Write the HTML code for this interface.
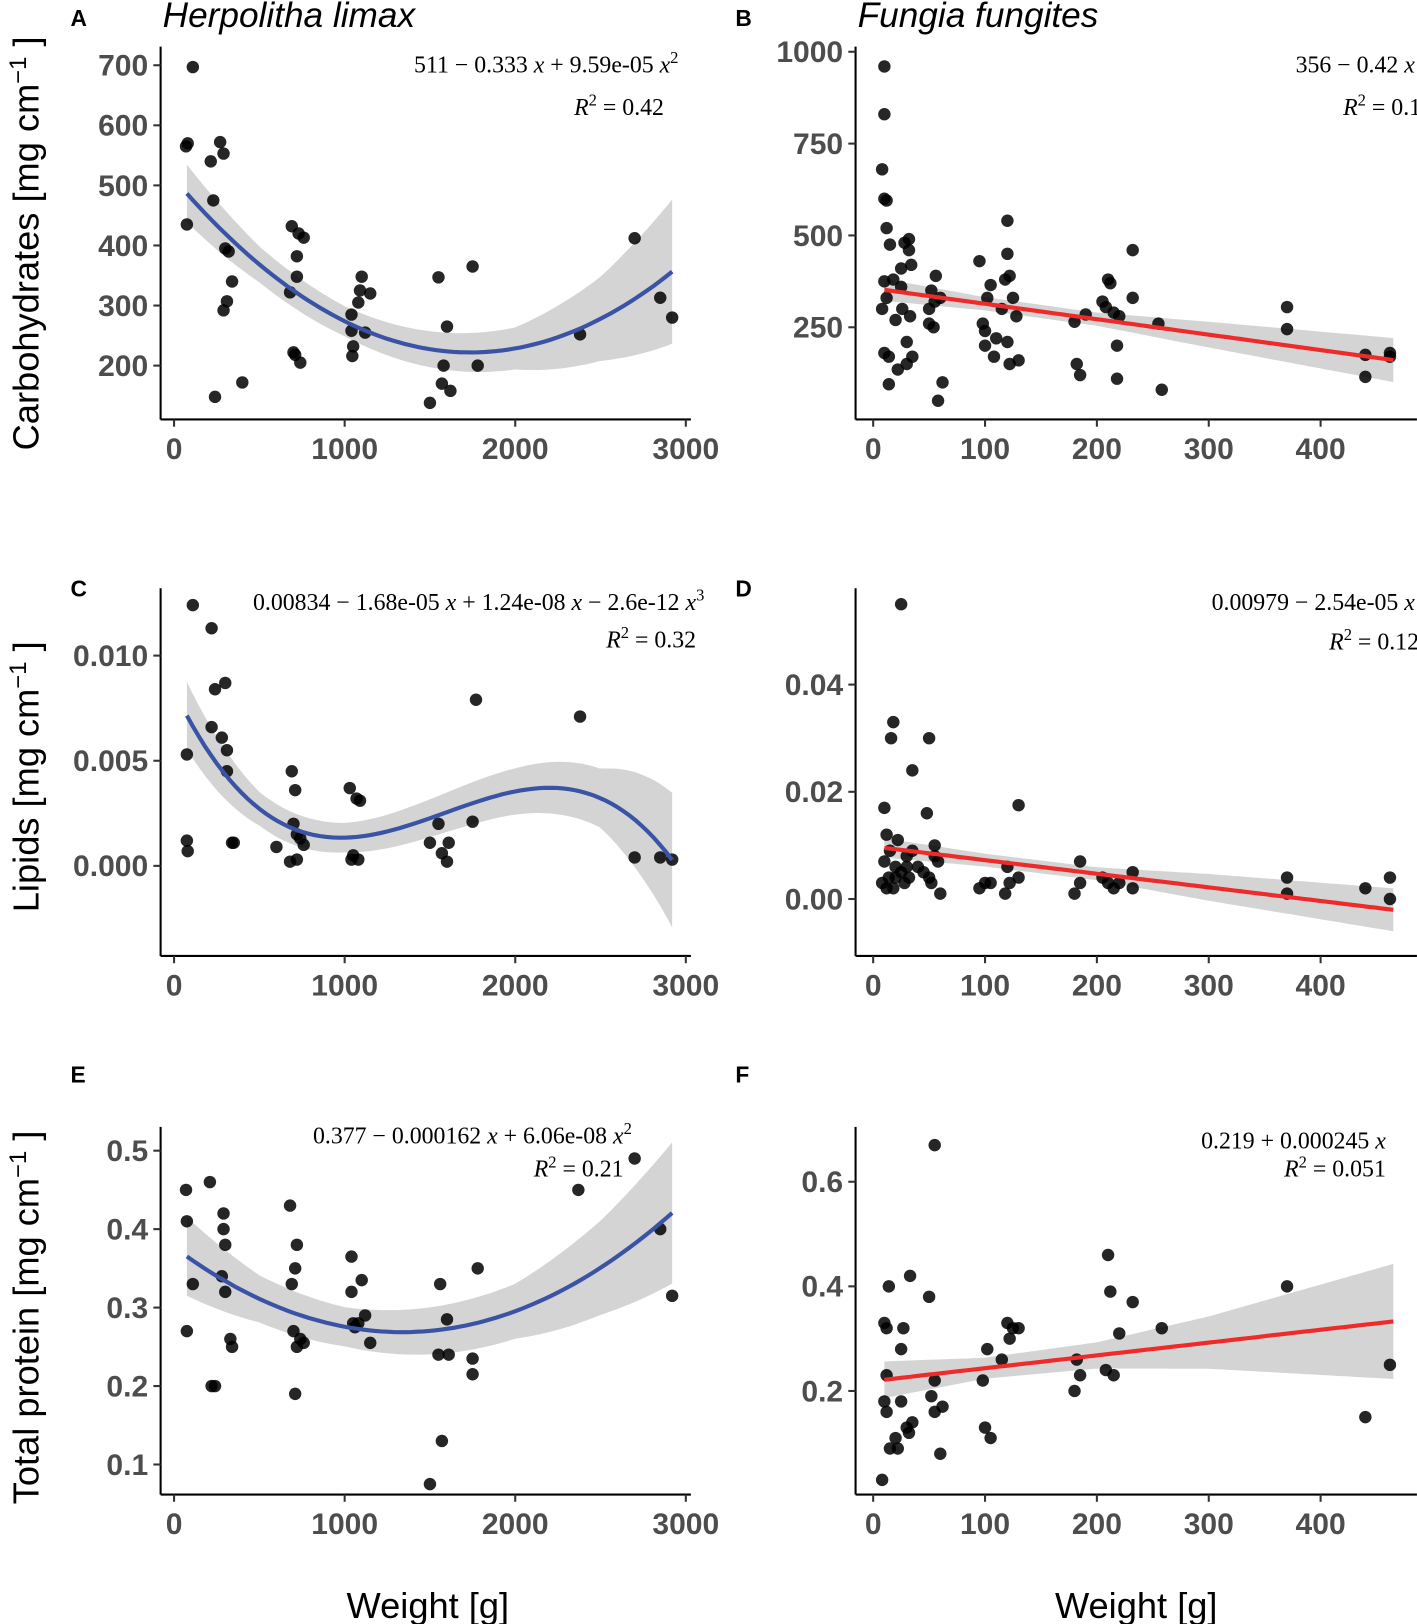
<!DOCTYPE html>
<html><head><meta charset="utf-8">
<style>
html,body{margin:0;padding:0;background:#fff;}
svg{display:block;}
.tick{font-family:"Liberation Sans",sans-serif;font-weight:bold;font-size:29px;fill:#4d4d4d;}
.ttl{font-family:"Liberation Sans",sans-serif;font-size:35px;fill:#000;}
.eq{font-family:"Liberation Serif",serif;font-size:23px;fill:#000;}
.lab{font-family:"Liberation Sans",sans-serif;font-weight:bold;font-size:22px;fill:#000;}
.sp{font-family:"Liberation Sans",sans-serif;font-style:italic;font-size:34px;fill:#000;}
</style></head>
<body>
<svg id="fig" width="1417" height="1624" viewBox="0 0 1368 1568" xmlns="http://www.w3.org/2000/svg">
<text class="sp" x="157" y="26">Herpolitha limax</text>
<text class="sp" x="828" y="26">Fungia fungites</text>
<text class="ttl" x="413" y="1562" text-anchor="middle">Weight [g]</text>
<text class="ttl" x="1097" y="1562" text-anchor="middle">Weight [g]</text>
<text class="ttl" transform="translate(37,235) rotate(-90)" text-anchor="middle">Carbohydrates [mg cm<tspan dy="-12" font-size="23">−1</tspan><tspan dy="12"> ]</tspan></text>
<text class="ttl" transform="translate(37,750) rotate(-90)" text-anchor="middle">Lipids [mg cm<tspan dy="-12" font-size="23">−1</tspan><tspan dy="12"> ]</tspan></text>
<text class="ttl" transform="translate(37,1272) rotate(-90)" text-anchor="middle">Total protein [mg cm<tspan dy="-12" font-size="23">−1</tspan><tspan dy="12"> ]</tspan></text>
</svg>
<script>
// Panel A data
const aX=[70,80,110,75,215,230,240,270,290,300,320,290,310,340,400,680,690,700,710,720,730,720,740,760,1040,1040,1050,1045,1080,1090,1100,1120,1150,1500,1550,1570,1580,1600,1620,1750,1780,2380,2700,2850,2920];
const aY=[565,570,697,435,540,475,148,572,553,395,390,292,307,340,172,322,432,222,218,382,420,348,205,413,285,258,232,216,305,325,348,255,320,138,347,170,200,265,158,365,200,252,412,313,280];
const aCoef=[511,-0.333,9.59e-5,0];
const aBandX=[75,500,1000,1500,2000,2500,2920];
const aBandHalf=[48,30,25,30,35,70,120];
const aXTicks=[0,1000,2000,3000];
const aYTicks=[200,300,400,500,600,700];
// Panel B data
const bX=[10,10,8,10,12,12,10,8,12,10,14,14,15,18,20,22,25,25,26,28,30,30,32,32,34,33,35,50,50,52,54,55,56,58,60,62,95,98,100,100,102,105,108,110,115,118,120,120,120,122,122,125,128,130,180,182,185,190,205,208,210,212,215,218,218,220,232,232,255,258,370,370,440,440,462,462];
const bY=[960,830,680,600,595,520,375,300,330,180,170,95,475,380,270,135,410,360,300,480,210,150,490,460,420,280,170,300,260,350,250,320,390,50,330,100,430,260,240,200,330,365,170,220,300,380,210,540,450,150,390,330,280,160,265,150,120,285,320,305,380,370,290,200,110,280,330,460,260,80,305,245,175,115,180,170];
const bCoef=[356,-0.42,0,0];
const bBandX=[10,100,200,300,465];
const bBandHalf=[30,18,18,35,60];
const bXTicks=[0,100,200,300,400];
const bYTicks=[250,500,750,1000];
// Panel C data
const cX=[110,220,75,75,80,240,300,220,280,310,310,340,350,600,680,690,700,710,720,720,740,760,1030,1040,1050,1070,1090,1080,1500,1550,1570,1600,1610,1750,1770,2380,2700,2850,2920];
const cY=[0.0124,0.0113,0.0053,0.0012,0.0007,0.0084,0.0087,0.0066,0.0061,0.0055,0.0045,0.0011,0.0011,0.0009,0.0002,0.0045,0.0020,0.0036,0.0015,0.0003,0.0013,0.0010,0.0037,0.0003,0.0005,0.0032,0.0031,0.0003,0.0011,0.0020,0.0006,0.0002,0.0011,0.0021,0.0079,0.0071,0.0004,0.0004,0.0003];
const cCoef=[0.00834,-1.68e-5,1.24e-8,-2.6e-12];
const cBandX=[75,500,1000,1500,2000,2500,2920];
const cBandHalf=[0.0016,0.0008,0.0007,0.0009,0.0011,0.0014,0.0032];
const cXTicks=[0,1000,2000,3000];
const cYTicks=[0,0.005,0.010];
// Panel D data
const dX=[25,10,18,16,35,50,48,130,8,10,12,14,15,18,20,22,25,28,30,32,35,40,45,52,55,58,60,12,20,30,50,55,95,100,105,118,120,122,130,180,185,185,205,210,215,220,232,232,370,370,440,462,462];
const dY=[0.055,0.017,0.033,0.030,0.024,0.030,0.016,0.0175,0.003,0.007,0.012,0.004,0.009,0.002,0.006,0.011,0.005,0.003,0.008,0.004,0.009,0.006,0.005,0.003,0.010,0.007,0.001,0.002,0.004,0.006,0.004,0.008,0.002,0.003,0.003,0.001,0.006,0.003,0.004,0.001,0.007,0.003,0.004,0.003,0.002,0.003,0.005,0.002,0.004,0.001,0.002,0.004,0.000];
const dCoef=[0.00979,-2.54e-5,0,0];
const dBandX=[10,100,200,300,465];
const dBandHalf=[0.0018,0.0012,0.0012,0.0025,0.004];
const dXTicks=[0,100,200,300,400];
const dYTicks=[0,0.02,0.04];
// Panel E data
const eX=[70,75,75,110,210,220,240,290,290,300,280,300,330,340,680,690,700,710,710,720,720,740,760,1040,1040,1050,1060,1080,1100,1120,1150,1500,1550,1560,1570,1600,1610,1750,1750,1780,2370,2700,2850,2920];
const eY=[0.45,0.41,0.27,0.33,0.46,0.20,0.20,0.42,0.40,0.38,0.34,0.32,0.26,0.25,0.43,0.33,0.27,0.19,0.35,0.38,0.25,0.26,0.255,0.365,0.32,0.28,0.275,0.28,0.335,0.29,0.255,0.075,0.24,0.33,0.13,0.285,0.24,0.215,0.235,0.35,0.45,0.49,0.40,0.315];
const eCoef=[0.377,-0.000162,6.06e-8,0];
const eBandX=[75,500,1000,1500,2000,2500,2920];
const eBandHalf=[0.05,0.03,0.025,0.03,0.035,0.06,0.09];
const eXTicks=[0,1000,2000,3000];
const eYTicks=[0.1,0.2,0.3,0.4,0.5];
// Panel F data
const fX=[55,8,10,12,14,10,12,12,15,20,22,25,25,27,30,32,33,35,50,52,55,55,60,62,98,100,102,105,115,120,122,125,130,180,182,185,208,210,212,215,220,232,258,370,440,462];
const fY=[0.67,0.03,0.33,0.32,0.40,0.18,0.16,0.23,0.09,0.11,0.09,0.18,0.28,0.32,0.13,0.12,0.42,0.14,0.38,0.19,0.22,0.16,0.08,0.17,0.22,0.13,0.28,0.11,0.26,0.33,0.30,0.32,0.32,0.20,0.26,0.23,0.24,0.46,0.39,0.23,0.31,0.37,0.32,0.40,0.15,0.25];
const fCoef=[0.219,0.000245,0,0];
const fBandX=[10,100,200,300,465];
const fBandHalf=[0.035,0.02,0.025,0.05,0.11];
const fXTicks=[0,100,200,300,400];
const fYTicks=[0.2,0.4,0.6];

const NS="http://www.w3.org/2000/svg";
const svg=document.getElementById('fig');
function mk(tag,attrs,parent){const e=document.createElementNS(NS,tag);for(const k in attrs)e.setAttribute(k,attrs[k]);(parent||svg).appendChild(e);return e;}
function interp(xs,ys,x){if(x<=xs[0])return ys[0];for(let i=1;i<xs.length;i++){if(x<=xs[i]){const t=(x-xs[i-1])/(xs[i]-xs[i-1]);return ys[i-1]+t*(ys[i]-ys[i-1]);}}return ys[ys.length-1];}

function panel(p){
  const g=mk('g',{});
  
  
  const sx=v=>p.x0+(v-p.xv0)*p.xk;
  const sy=v=>p.y0-(v-p.yv0)*p.yk;
  const f=x=>p.coef[0]+p.coef[1]*x+p.coef[2]*x*x+p.coef[3]*x*x*x;
  const xa=p.bx[0], xb=p.bx[p.bx.length-1];
  let up=[],lo=[],ln=[];
  for(let i=0;i<=80;i++){const x=xa+(xb-xa)*i/80;const h=interp(p.bx,p.bh,x);const y=f(x);
    up.push(sx(x).toFixed(1)+','+sy(y+h).toFixed(1));lo.push(sx(x).toFixed(1)+','+sy(y-h).toFixed(1));ln.push(sx(x).toFixed(1)+','+sy(y).toFixed(1));}
  const band=mk('polygon',{points:up.concat(lo.reverse()).join(' '),fill:'#d4d4d4'},g);
  
  
  for(let i=0;i<p.X.length;i++){
    const c=mk('circle',{cx:sx(p.X[i]),cy:sy(p.Y[i]),r:6,fill:'#000','fill-opacity':0.85},g);
    
    
  }
  const fit=mk('polyline',{points:ln.join(' '),fill:'none',stroke:p.color,'stroke-width':4},g);
  
  
  mk('line',{x1:p.ax,y1:p.top,x2:p.ax,y2:p.ay,stroke:'#000','stroke-width':2},g);
  mk('line',{x1:p.ax,y1:p.ay,x2:p.right,y2:p.ay,stroke:'#000','stroke-width':2},g);
  p.xt.forEach(v=>{const x=sx(v);mk('line',{x1:x,y1:p.ay,x2:x,y2:p.ay+7,stroke:'#333','stroke-width':2},g);
    const t=mk('text',{x:x,y:p.ay+38,'text-anchor':'middle',class:'tick'},g);t.textContent=v;
    
    });
  p.yt.forEach(v=>{const y=sy(v);mk('line',{x1:p.ax-7,y1:y,x2:p.ax,y2:y,stroke:'#333','stroke-width':2},g);
    const t=mk('text',{x:p.ax-12,y:y+10,'text-anchor':'end',class:'tick'},g);t.textContent=p.fmt(v);
    
    });
  const L=mk('text',{x:p.lx,y:p.ly,class:'lab'},g);L.textContent=p.letter;
  
  
  const e1=mk('text',{x:p.eqx,y:p.eqy,'text-anchor':'end',class:'eq'},g);e1.innerHTML=p.eq;
  
  
  const e2=mk('text',{x:p.r2x,y:p.r2y,'text-anchor':'end',class:'eq'},g);e2.innerHTML='<tspan font-style="italic">R</tspan><tspan dy="-9" font-size="16">2</tspan><tspan dy="9"> = '+p.r2+'</tspan>';
  
  
}
const xL={x0:168,xv0:0,xk:0.1647,ax:155,right:667,lx:68};
const xR={x0:843,xv0:0,xk:1.08,ax:826,right:1368,lx:710};
const sup2='<tspan dy="-9" font-size="16">2</tspan>';
panel(Object.assign({name:'panel-a',X:aX,Y:aY,coef:aCoef,bx:aBandX,bh:aBandHalf,xt:aXTicks,yt:aYTicks,y0:353,yv0:200,yk:0.58,ay:405,top:45,color:'#3a53a4',letter:'A',ly:25,fmt:v=>v,eq:'511 − 0.333 <tspan font-style="italic">x</tspan> + 9.59e-05 <tspan font-style="italic">x</tspan>'+sup2,eqx:655,eqy:70,r2x:641,r2y:111,r2:'0.42'},xL));
panel(Object.assign({name:'panel-b',X:bX,Y:bY,coef:bCoef,bx:bBandX,bh:bBandHalf,xt:bXTicks,yt:bYTicks,y0:316,yv0:250,yk:0.3547,ay:405,top:45,color:'#ee2a2a',letter:'B',ly:25,fmt:v=>v,eq:'356 − 0.42 <tspan font-style="italic">x</tspan>',eqx:1366,eqy:70,r2x:1372,r2y:111,r2:'0.1'},xR));
panel(Object.assign({name:'panel-c',X:cX,Y:cY,coef:cCoef,bx:cBandX,bh:cBandHalf,xt:cXTicks,yt:cYTicks,y0:836,yv0:0,yk:20300,ay:923,top:568,color:'#3a53a4',letter:'C',ly:576,fmt:v=>v.toFixed(3),eq:'0.00834 − 1.68e-05 <tspan font-style="italic">x</tspan> + 1.24e-08 <tspan font-style="italic">x</tspan>  − 2.6e-12 <tspan font-style="italic">x</tspan><tspan dy="-9" font-size="16">3</tspan>',eqx:680,eqy:589,r2x:672,r2y:625,r2:'0.32'},xL));
panel(Object.assign({name:'panel-d',X:dX,Y:dY,coef:dCoef,bx:dBandX,bh:dBandHalf,xt:dXTicks,yt:dYTicks,y0:868,yv0:0,yk:5175,ay:923,top:568,color:'#ee2a2a',letter:'D',ly:576,fmt:v=>v.toFixed(2),eq:'0.00979 − 2.54e-05 <tspan font-style="italic">x</tspan>',eqx:1366,eqy:589,r2x:1370,r2y:627,r2:'0.12'},xR));
panel(Object.assign({name:'panel-e',X:eX,Y:eY,coef:eCoef,bx:eBandX,bh:eBandHalf,xt:eXTicks,yt:eYTicks,y0:1414,yv0:0.1,yk:757.5,ay:1443,top:1088,color:'#3a53a4',letter:'E',ly:1045,fmt:v=>v.toFixed(1),eq:'0.377 − 0.000162 <tspan font-style="italic">x</tspan> + 6.06e-08 <tspan font-style="italic">x</tspan>'+sup2,eqx:610,eqy:1104,r2x:602,r2y:1136,r2:'0.21'},xL));
panel(Object.assign({name:'panel-f',X:fX,Y:fY,coef:fCoef,bx:fBandX,bh:fBandHalf,xt:fXTicks,yt:fYTicks,y0:1343,yv0:0.2,yk:505,ay:1443,top:1088,color:'#ee2a2a',letter:'F',ly:1045,fmt:v=>v.toFixed(1),eq:'0.219 + 0.000245 <tspan font-style="italic">x</tspan>',eqx:1338,eqy:1109,r2x:1338,r2y:1136,r2:'0.051'},xR));
</script>
</body></html>
